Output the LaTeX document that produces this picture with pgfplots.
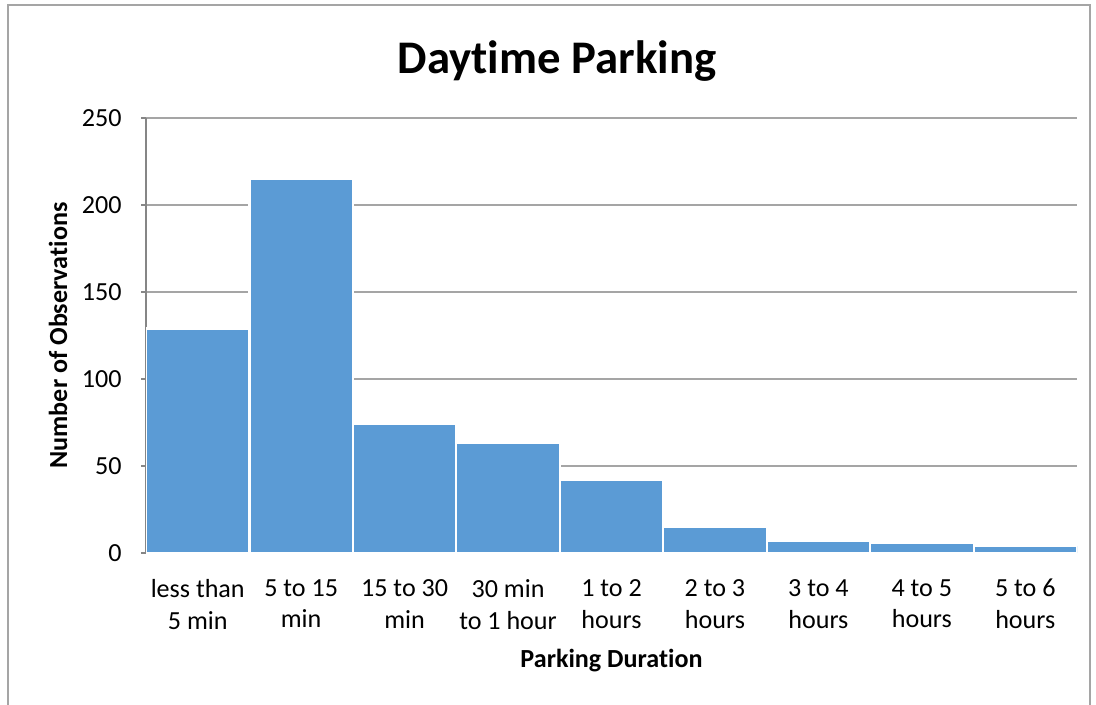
\documentclass[border=0pt]{standalone}
\usepackage{pgfplots}
\pgfplotsset{compat=1.18}
\usepackage{fontspec}
\setmainfont{Carlito}[Ligatures=NoCommon]
\definecolor{barblue}{RGB}{91,155,213}
\definecolor{axisgray}{RGB}{134,134,134}
\definecolor{gridgray}{RGB}{165,165,165}
\begin{document}
\begin{tikzpicture}
\useasboundingbox (0,0) rectangle (21.92cm,14.08cm);
\draw[gridgray, line width=0.6pt] (0.16cm,-0.1cm) -- (0.16cm,13.98cm) -- (21.8cm,13.98cm) -- (21.8cm,-0.1cm);
\node[anchor=base, font=\fontsize{26.6}{32}\selectfont\bfseries] at (11.14cm,12.6cm) {Daytime Parking};
\begin{axis}[
    at={(2.92cm,3.02cm)}, anchor=south west,
    width=18.62cm, height=8.7cm, scale only axis,
    ybar, bar width=1, bar shift=0pt,
    xmin=-0.5, xmax=8.5,
    ymin=0, ymax=250,
    ytick={0,50,100,150,200,250},
    xtick=data,
    xticklabels={less than\\5 min, 5 to 15\\min, 15 to 30\\min, 30 min\\to 1 hour, 1 to 2\\hours, 2 to 3\\hours, 3 to 4\\hours, 4 to 5\\hours, 5 to 6\\hours},
    axis x line*=bottom, axis y line*=left,
    x axis line style={axisgray, line width=1.4pt, -},
    y axis line style={axisgray, line width=1pt, -},
    ymajorgrids, grid style={gridgray, line width=0.9pt},
    major tick length=0.1cm,
    tick align=outside,
    ytick style={axisgray, line width=0.9pt},
    xtick style={draw=none},
    /pgf/number format/assume math mode=true,
    tick label style={font=\fontsize{14.85}{18.1}\selectfont},
    yticklabel style={anchor=east, inner sep=0pt, xshift=-0.38cm},
    xticklabel style={align=center, anchor=north, inner sep=0pt, yshift=-0.42cm},
    xlabel={Parking Duration},
    ylabel={Number of Observations},
    label style={font=\fontsize{14.85}{18.1}\selectfont\bfseries},
    xlabel style={at={(axis description cs:0.5,-0.248)}, anchor=center},
    ylabel style={at={(axis description cs:-0.0945,0.5)}, anchor=center},
]
\addplot[fill=barblue, draw=white, line width=1.2pt] coordinates {
    (0,129) (1,215) (2,74) (3,63) (4,42) (5,15) (6,7) (7,6) (8,4)
};
\end{axis}
\end{tikzpicture}
\end{document}
